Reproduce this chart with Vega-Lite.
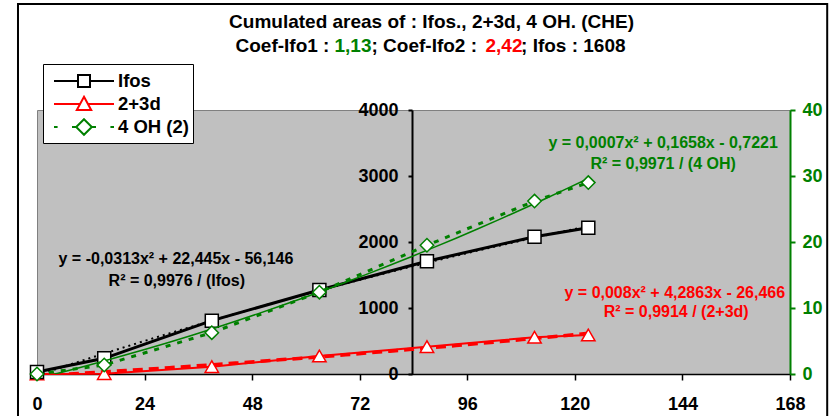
{
  "$schema": "https://vega.github.io/schema/vega-lite/v6.json",
  "width": 753,
  "height": 264,
  "autosize": {"type": "none"},
  "padding": {"left": 37, "top": 110, "right": 39, "bottom": 42},
  "background": "white",
  "datasets": {
    "series": [
      {"series": "Ifos", "t": 0, "area": 30},
      {"series": "Ifos", "t": 15, "area": 238},
      {"series": "Ifos", "t": 39, "area": 808},
      {"series": "Ifos", "t": 63, "area": 1273},
      {"series": "Ifos", "t": 87, "area": 1708},
      {"series": "Ifos", "t": 111, "area": 2080},
      {"series": "Ifos", "t": 123, "area": 2217},
      {"series": "2+3d", "t": 0, "area": 0},
      {"series": "2+3d", "t": 15, "area": 5},
      {"series": "2+3d", "t": 39, "area": 111},
      {"series": "2+3d", "t": 63, "area": 273},
      {"series": "2+3d", "t": 87, "area": 414},
      {"series": "2+3d", "t": 111, "area": 556},
      {"series": "2+3d", "t": 123, "area": 591},
      {"series": "4 OH (2)", "t": 0, "area": 0},
      {"series": "4 OH (2)", "t": 15, "area": 1.36},
      {"series": "4 OH (2)", "t": 39, "area": 6.26},
      {"series": "4 OH (2)", "t": 63, "area": 12.4},
      {"series": "4 OH (2)", "t": 87, "area": 19.5},
      {"series": "4 OH (2)", "t": 111, "area": 26.2},
      {"series": "4 OH (2)", "t": 123, "area": 29.0}
    ]
  },
  "data": {"name": "series"},
  "encoding": {
    "x": {
      "field": "t", "type": "quantitative",
      "scale": {"domain": [0, 168], "nice": false, "zero": false},
      "axis": {
        "values": [0, 24, 48, 72, 96, 120, 144, 168], "title": null, "grid": false,
        "domainColor": "black", "domainWidth": 1.5, "tickColor": "black", "tickWidth": 1.5, "tickSize": 6,
        "labelFont": "Liberation Sans", "labelFontSize": 18, "labelFontWeight": "bold", "labelColor": "black",
        "labelPadding": 15, "labelFlush": false, "labelOverlap": false
      }
    }
  },
  "layer": [
    {
      "encoding": {
        "y": {
          "field": "area", "type": "quantitative",
          "scale": {"domain": [0, 4000], "nice": false},
          "axis": {
            "orient": "left", "offset": -375, "values": [0, 1000, 2000, 3000, 4000], "format": "d", "title": null, "grid": false,
            "domainColor": "black", "domainWidth": 2, "tickColor": "black", "tickWidth": 2, "tickSize": 4,
            "labelFont": "Liberation Sans", "labelFontSize": 18, "labelFontWeight": "bold", "labelColor": "black",
            "labelPadding": 10
          }
        }
      },
      "layer": [
        {
          "transform": [{"filter": "datum.series === 'Ifos' && datum.t === 0"}],
          "mark": {"type": "rect", "filled": false, "stroke": "black", "strokeWidth": 2},
          "encoding": {"x": {"datum": -4.24}, "x2": {"datum": 176.3}, "y": {"datum": 5606}, "y2": {"datum": -1000}}
        },
        {
          "transform": [{"filter": "datum.series === 'Ifos' && datum.t === 0"}],
          "mark": {"type": "text", "text": "Cumulated areas of : Ifos., 2+3d, 4 OH. (CHE)", "align": "center", "baseline": "alphabetic", "fontSize": 19, "fontWeight": "bold", "color": "black"},
          "encoding": {"x": {"datum": 88.02}, "y": {"datum": 5247}}
        },
        {
          "transform": [{"filter": "datum.series === 'Ifos' && datum.t === 0"}],
          "mark": {"type": "text", "text": "Coef-Ifo1 : ", "align": "left", "baseline": "alphabetic", "fontSize": 19, "fontWeight": "bold", "color": "black"},
          "encoding": {"x": {"datum": 44.29}, "y": {"datum": 4883}}
        },
        {
          "transform": [{"filter": "datum.series === 'Ifos' && datum.t === 0"}],
          "mark": {"type": "text", "text": "1,13", "align": "left", "baseline": "alphabetic", "fontSize": 19, "fontWeight": "bold", "color": "#008000"},
          "encoding": {"x": {"datum": 66.38}, "y": {"datum": 4883}}
        },
        {
          "transform": [{"filter": "datum.series === 'Ifos' && datum.t === 0"}],
          "mark": {"type": "text", "text": "; Coef-Ifo2 : ", "align": "left", "baseline": "alphabetic", "fontSize": 19, "fontWeight": "bold", "color": "black"},
          "encoding": {"x": {"datum": 74.63}, "y": {"datum": 4883}}
        },
        {
          "transform": [{"filter": "datum.series === 'Ifos' && datum.t === 0"}],
          "mark": {"type": "text", "text": "2,42", "align": "left", "baseline": "alphabetic", "fontSize": 19, "fontWeight": "bold", "color": "#FF0000"},
          "encoding": {"x": {"datum": 100.07}, "y": {"datum": 4883}}
        },
        {
          "transform": [{"filter": "datum.series === 'Ifos' && datum.t === 0"}],
          "mark": {"type": "text", "text": "; Ifos : 1608", "align": "left", "baseline": "alphabetic", "fontSize": 19, "fontWeight": "bold", "color": "black"},
          "encoding": {"x": {"datum": 107.99}, "y": {"datum": 4883}}
        },
        {
          "transform": [{"filter": "datum.series === 'Ifos'"}],
          "mark": {"type": "line", "strokeWidth": 3},
          "encoding": {
            "color": {
              "field": "series", "type": "nominal",
              "scale": {"domain": ["Ifos", "2+3d", "4 OH (2)"], "range": ["#000000", "#FF0000", "#008000"]},
              "legend": {
                "title": null, "orient": "none", "legendX": 6, "legendY": -46, "padding": 4, "rowPadding": 0,
                "symbolOffset": 24, "labelOffset": 21, "symbolSize": 576, "symbolStrokeWidth": 2,
                "symbolFillColor": "white", "strokeColor": "black", "fillColor": "white",
                "labelFont": "Liberation Sans", "labelFontSize": 18.5, "labelFontWeight": "bold", "labelColor": "black",
                "labelLimit": 300,
                "encode": {
                  "symbols": {
                    "update": {
                      "shape": {"signal": "datum.value === 'Ifos' ? 'M-2.5,0H-0.5M0.5,0H2.5M-0.5,-0.5H0.5V0.5H-0.5Z' : datum.value === '2+3d' ? 'M-2.5,0H-0.35M0.35,0H2.5M0,-0.6L0.6,0.5L-0.6,0.5Z' : 'M-2.5,0H-2.2M-1.0,0H-0.65M0.65,0H1.0M2.2,0H2.5M0,-0.65L0.65,0L0,0.65L-0.65,0Z'"},
                      "fill": {"value": "white"},
                      "strokeWidth": {"value": 2},
                      "strokeDash": {"value": []}
                    }
                  }
                }
              }
            }
          }
        },
        {
          "transform": [{"filter": "datum.series === '2+3d'"}],
          "mark": {"type": "line", "strokeWidth": 2},
          "encoding": {
            "color": {
              "field": "series", "type": "nominal",
              "scale": {"domain": ["Ifos", "2+3d", "4 OH (2)"], "range": ["#000000", "#FF0000", "#008000"]}
            }
          }
        },
        {
          "transform": [
            {"filter": "datum.series === 'Ifos'"},
            {"regression": "area", "on": "t", "method": "poly", "order": 2}
          ],
          "mark": {"type": "line", "color": "black", "strokeWidth": 2, "strokeDash": [2, 4], "clip": true},
          "encoding": {}
        },
        {
          "transform": [
            {"filter": "datum.series === '2+3d'"},
            {"regression": "area", "on": "t", "method": "poly", "order": 2}
          ],
          "mark": {"type": "line", "color": "#FF0000", "strokeWidth": 3.5, "strokeDash": [10, 6], "clip": true},
          "encoding": {}
        },
        {
          "transform": [{"filter": "datum.series === '2+3d'"}],
          "mark": {"type": "point", "shape": "triangle-up", "size": 180, "filled": true, "fill": "white", "stroke": "#FF0000", "strokeWidth": 1.5, "opacity": 1},
          "encoding": {}
        },
        {
          "transform": [{"filter": "datum.series === 'Ifos'"}],
          "mark": {"type": "point", "shape": "square", "size": 169, "filled": true, "fill": "white", "stroke": "black", "strokeWidth": 1.5, "opacity": 1},
          "encoding": {}
        },
        {
          "transform": [{"filter": "datum.series === 'Ifos' && datum.t === 0"}],
          "mark": {"type": "text", "text": "y = -0,0313x² + 22,445x - 56,146", "align": "center", "baseline": "alphabetic", "fontSize": 16, "fontWeight": "bold", "color": "black"},
          "encoding": {"x": {"datum": 31.0}, "y": {"datum": 1667}}
        },
        {
          "transform": [{"filter": "datum.series === 'Ifos' && datum.t === 0"}],
          "mark": {"type": "text", "text": "R² = 0,9976 / (Ifos)", "align": "center", "baseline": "alphabetic", "fontSize": 16, "fontWeight": "bold", "color": "black"},
          "encoding": {"x": {"datum": 31.2}, "y": {"datum": 1338}}
        },
        {
          "transform": [{"filter": "datum.series === 'Ifos' && datum.t === 0"}],
          "mark": {"type": "text", "text": "y = 0,0007x² + 0,1658x - 0,7221", "align": "center", "baseline": "alphabetic", "fontSize": 16, "fontWeight": "bold", "color": "#008000"},
          "encoding": {"x": {"datum": 139.7}, "y": {"datum": 3420}}
        },
        {
          "transform": [{"filter": "datum.series === 'Ifos' && datum.t === 0"}],
          "mark": {"type": "text", "text": "R² = 0,9971 / (4 OH)", "align": "center", "baseline": "alphabetic", "fontSize": 16, "fontWeight": "bold", "color": "#008000"},
          "encoding": {"x": {"datum": 139.7}, "y": {"datum": 3106}}
        },
        {
          "transform": [{"filter": "datum.series === 'Ifos' && datum.t === 0"}],
          "mark": {"type": "text", "text": "y = 0,008x² + 4,2863x - 26,466", "align": "center", "baseline": "alphabetic", "fontSize": 16, "fontWeight": "bold", "color": "#FF0000"},
          "encoding": {"x": {"datum": 142.3}, "y": {"datum": 1156}}
        },
        {
          "transform": [{"filter": "datum.series === 'Ifos' && datum.t === 0"}],
          "mark": {"type": "text", "text": "R² = 0,9914 / (2+3d)", "align": "center", "baseline": "alphabetic", "fontSize": 16, "fontWeight": "bold", "color": "#FF0000"},
          "encoding": {"x": {"datum": 142.6}, "y": {"datum": 868}}
        }
      ]
    },
    {
      "transform": [{"filter": "datum.series === '4 OH (2)'"}],
      "encoding": {
        "y": {
          "field": "area", "type": "quantitative",
          "scale": {"domain": [0, 40], "nice": false},
          "axis": {
            "orient": "right", "values": [0, 10, 20, 30, 40], "title": null, "grid": false,
            "domainColor": "#008000", "domainWidth": 2, "tickColor": "#008000", "tickWidth": 2, "tickSize": 5,
            "labelFont": "Liberation Sans", "labelFontSize": 18, "labelFontWeight": "bold", "labelColor": "#008000",
            "labelPadding": 7
          }
        }
      },
      "layer": [
        {
          "mark": {"type": "line", "strokeWidth": 3, "strokeDash": [5, 7]},
          "encoding": {
            "color": {
              "field": "series", "type": "nominal",
              "scale": {"domain": ["Ifos", "2+3d", "4 OH (2)"], "range": ["#000000", "#FF0000", "#008000"]}
            }
          }
        },
        {
          "transform": [{"regression": "area", "on": "t", "method": "poly", "order": 2}],
          "mark": {"type": "line", "color": "#008000", "strokeWidth": 1.5, "clip": true},
          "encoding": {}
        },
        {
          "mark": {"type": "point", "shape": "diamond", "size": 180, "filled": true, "fill": "white", "stroke": "#008000", "strokeWidth": 1.5, "opacity": 1},
          "encoding": {}
        }
      ]
    }
  ],
  "resolve": {"scale": {"y": "independent"}},
  "config": {
    "view": {"fill": "#C0C0C0", "stroke": "#808080", "strokeWidth": 1},
    "font": "Liberation Sans",
    "text": {"font": "Liberation Sans", "fontWeight": "bold"}
  }
}
